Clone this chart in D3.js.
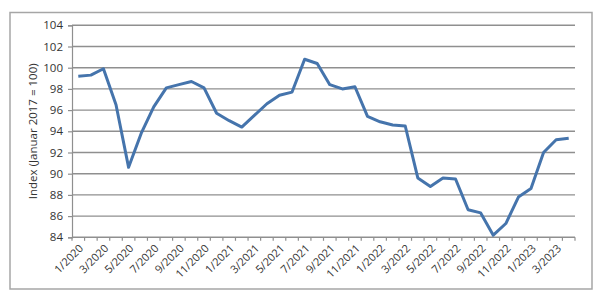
<!DOCTYPE html>
<html>
<head>
<meta charset="utf-8">
<script src="https://cdn.jsdelivr.net/npm/d3@7"></script>
<style>
body {
	margin: 0;
	background: white;
}
text {
	font-family: "Open Sans", sans-serif;
	fill: #333;
}
</style>
</head>
<body>
<div id="chart"></div>
<script>

// -- data

var months = [
	"1/2020", "2/2020", "3/2020", "4/2020", "5/2020", "6/2020",
	"7/2020", "8/2020", "9/2020", "10/2020", "11/2020", "12/2020",
	"1/2021", "2/2021", "3/2021", "4/2021", "5/2021", "6/2021",
	"7/2021", "8/2021", "9/2021", "10/2021", "11/2021", "12/2021",
	"1/2022", "2/2022", "3/2022", "4/2022", "5/2022", "6/2022",
	"7/2022", "8/2022", "9/2022", "10/2022", "11/2022", "12/2022",
	"1/2023", "2/2023", "3/2023", "4/2023",
];

var index = [
	99.2, 99.3, 99.9, 96.5, 90.6, 93.8,
	96.3, 98.1, 98.4, 98.7, 98.1, 95.7,
	95.0, 94.4, 95.5, 96.6, 97.4, 97.7,
	100.8, 100.4, 98.4, 98.0, 98.2, 95.4,
	94.9, 94.6, 94.5, 89.6, 88.8, 89.6,
	89.5, 86.6, 86.3, 84.2, 85.3, 87.8,
	88.6, 92.0, 93.2, 93.35,
];

var yTicks = [84, 86, 88, 90, 92, 94, 96, 98, 100, 102, 104];

// -- layout

var W = 600, H = 302;
var plotLeft = 72, plotRight = 575, plotTop = 25.3, plotBottom = 237.3;

var svg = d3.select("#chart")
	.append("svg")
		.attr("width", W)
		.attr("height", H);

// outer frame
svg.append("rect")
	.attr("x", 10)
	.attr("y", 12.5)
	.attr("width", 582)
	.attr("height", 276.5)
	.attr("fill", "none")
	.attr("stroke", "#a6a6a6")
	.attr("stroke-width", 1.5);

var x = d3.scaleBand()
	.domain(months)
	.range([plotLeft, plotRight])
	.paddingInner(0)
	.paddingOuter(0);

var y = d3.scaleLinear()
	.domain([84, 104])
	.range([plotBottom, plotTop]);

// grid lines
svg.append("g")
	.selectAll("line")
	.data(yTicks.filter(d => d != 84))
	.enter()
	.append("line")
		.attr("x1", plotLeft)
		.attr("x2", plotRight)
		.attr("y1", d => y(d))
		.attr("y2", d => y(d))
		.attr("stroke", "#8f8f8f")
		.attr("stroke-width", 1.4);

// y axis
var yAxis = svg.append("g")
	.attr("transform", "translate(" + plotLeft + ",0)")
	.call(d3.axisLeft(y).tickValues(yTicks).tickSize(4).tickPadding(5).tickFormat(d3.format("d")));
yAxis.select(".domain").attr("stroke", "#8f8f8f").attr("stroke-width", 1.2);
yAxis.selectAll(".tick line").attr("stroke", "#8f8f8f").attr("stroke-width", 1.2);
yAxis.selectAll("text")
	.style("font-family", "'Open Sans', sans-serif")
	.style("font-size", "11.5px")
	.style("fill", "#333");

svg.append("text")
	.attr("transform", "translate(33," + ((plotTop + plotBottom) / 2) + ") rotate(-90)")
	.attr("text-anchor", "middle")
	.attr("dy", "0.35em")
	.style("font-size", "11.5px")
	.text("Index (Januar 2017 = 100)");

// x axis line and category boundary ticks
svg.append("line")
	.attr("x1", plotLeft)
	.attr("x2", plotRight)
	.attr("y1", plotBottom)
	.attr("y2", plotBottom)
	.attr("stroke", "#8f8f8f")
	.attr("stroke-width", 1.4);

var bounds = months.map(d => x(d)).concat([plotRight]);
svg.append("g")
	.selectAll("line")
	.data(bounds)
	.enter()
	.append("line")
		.attr("x1", d => d)
		.attr("x2", d => d)
		.attr("y1", plotBottom)
		.attr("y2", plotBottom + 3.5)
		.attr("stroke", "#8f8f8f")
		.attr("stroke-width", 1.2);

// x labels, every second month
svg.append("g")
	.selectAll("text")
	.data(months.filter((d, i) => i % 2 == 0))
	.enter()
	.append("text")
		.attr("transform", d => "translate(" + (x(d) + x.bandwidth() / 2 + 3) + "," + (plotBottom + 9) + ") rotate(-45)")
		.attr("text-anchor", "end")
		.attr("dy", "0.35em")
		.style("font-size", "11px")
		.text(d => d);

// line
var line = d3.line()
	.x((d, i) => x(months[i]) + x.bandwidth() / 2)
	.y(d => y(d));

svg.append("path")
	.datum(index)
	.attr("fill", "none")
	.attr("stroke", "#4574ac")
	.attr("stroke-width", 3)
	.attr("stroke-linejoin", "round")
	.attr("d", line);

</script>
</body>
</html>
